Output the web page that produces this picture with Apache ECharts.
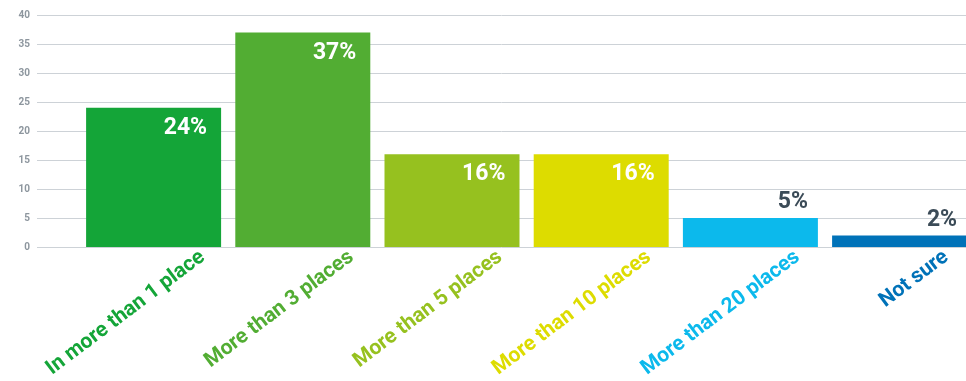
<!DOCTYPE html>
<html>
<head>
<meta charset="utf-8">
<script src="https://cdn.jsdelivr.net/npm/echarts@6/dist/echarts.min.js"></script>
<style>
html,body{margin:0;padding:0;background:#fff;}
#c{width:966px;height:381px;}
</style>
</head>
<body>
<div id="c"></div>
<script>
const categories = ["In more than 1 place", "More than 3 places", "More than 5 places", "More than 10 places", "More than 20 places", "Not sure"];
const values = [24, 37, 16, 16, 5, 2];
const palette = ["#14a538", "#52ad33", "#96c11f", "#dddc00", "#0cb9ec", "#0072b8"];

const chart = echarts.init(document.getElementById('c'), null, {renderer: 'canvas'});
const FONT = 'Roboto';
const gTop = 15, gBottom = 134;
const step = 149.2;            // px per category
const barLeft = 79;            // left edge of first category band
const labelShift = 49;         // label end offset right of bar centre
const W = 966;

const barData = values.map((v, i) => {
  const inside = v >= 10;
  return {
    value: [i, v],
    itemStyle: {color: palette[i]},
    label: inside ? {
      show: true, position: [121, 9], align: 'right', verticalAlign: 'top',
      color: '#ffffff'
    } : {
      show: true, position: [125, -4], align: 'right', verticalAlign: 'bottom',
      color: '#3b4b57'
    }
  };
});

const labelLeft = barLeft + step / 2 + labelShift;

chart.setOption({
  animation: false,
  grid: [
    {left: 37, right: 0, top: gTop, bottom: gBottom},
    {left: barLeft, right: 0, top: gTop, bottom: gBottom},
    {left: labelLeft, right: 0, top: gTop, bottom: gBottom}
  ],
  xAxis: [
    {gridIndex: 0, type: 'category', data: categories, show: false},
    {gridIndex: 1, type: 'value', min: -0.5, max: -0.5 + (W - barLeft) / step, show: false, splitLine: {show: false}},
    {gridIndex: 2, type: 'value', min: 0, max: (W - labelLeft) / step, interval: 1,
     axisLine: {show: false}, axisTick: {show: false}, splitLine: {show: false},
     axisLabel: {
       interval: 0, rotate: 37, margin: 20, showMinLabel: true, showMaxLabel: true,
       fontFamily: FONT, fontWeight: 'bold', fontSize: 21,
       formatter: (val) => Number.isInteger(val) && categories[val] ? categories[val] : '',
       color: (val) => palette[Math.round(val)] || '#000'
     }}
  ],
  yAxis: [
    {gridIndex: 0, type: 'value', min: 0, max: 40, interval: 5,
     axisLine: {show: false}, axisTick: {show: false},
     axisLabel: {margin: 7, fontFamily: FONT, fontSize: 10, fontWeight: 'bold', color: '#8d969e'},
     splitLine: {lineStyle: {color: '#cdd2d7', width: 1}}},
    {gridIndex: 1, type: 'value', min: 0, max: 40, interval: 5, show: false, splitLine: {show: false}},
    {gridIndex: 2, type: 'value', min: 0, max: 40, interval: 5, show: false, splitLine: {show: false}}
  ],
  series: [{
    type: 'bar',
    xAxisIndex: 1, yAxisIndex: 1,
    barWidth: 135,
    clip: false,
    data: barData,
    label: {
      formatter: (p) => p.value[1] + '%',
      fontFamily: FONT, fontWeight: 'bold', fontSize: 23
    }
  }]
});
</script>
</body>
</html>
